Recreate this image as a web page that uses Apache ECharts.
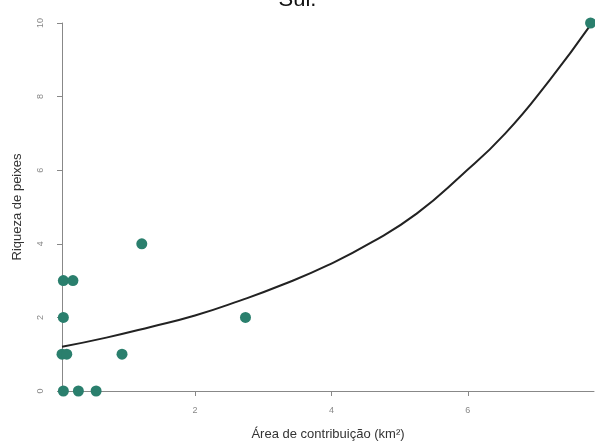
<!DOCTYPE html>
<html>
<head>
<meta charset="utf-8">
<script src="https://cdn.jsdelivr.net/npm/echarts@6/dist/echarts.min.js"></script>
<style>
  html, body { margin: 0; padding: 0; background: #fff; }
  #chart { width: 595px; height: 444px; }
</style>
</head>
<body>
<div id="chart"></div>
<script>
// observed points (area km², species richness)
const areaKm2 = [0.07, 0.21, 0.07, 0.05, 0.12, 0.07, 0.29, 0.55, 0.93, 1.22, 2.74, 7.8]
const riqueza = [3, 3, 2, 1, 1, 0, 0, 0, 1, 4, 2, 10]
// fitted curve
const curveX = [0.05, 0.7, 1.35, 2.0, 2.65, 3.3, 3.95, 4.6, 5.25, 5.9, 6.55, 7.2, 7.8]
const curveY = [1.2, 1.45, 1.74, 2.05, 2.45, 2.9, 3.42, 4.05, 4.82, 5.85, 7.0, 8.45, 9.95]
const xTicks = [2, 4, 6]
const yTicks = [0, 2, 4, 6, 8, 10]

const chart = echarts.init(document.getElementById('chart'))
chart.setOption({
    animation: false,
    title: {
        text: 'Sul.',
        left: 'center',
        top: -16,
        textStyle: { fontSize: 22, fontWeight: 'normal', color: '#111', fontFamily: 'Liberation Sans' }
    },
    grid: { left: 62, right: 1, top: 23, bottom: 53, outerBoundsMode: 'none' },
    xAxis: {
        type: 'value',
        min: 0.05,
        max: 7.85,
        name: 'Área de contribuição (km²)',
        nameLocation: 'middle',
        nameGap: 37,
        nameTextStyle: { fontSize: 13, color: '#333', fontFamily: 'Liberation Sans' },
        splitLine: { show: false },
        axisLine: { lineStyle: { color: '#888', width: 1 } },
        axisTick: { customValues: xTicks, length: 5, lineStyle: { color: '#888' } },
        axisLabel: { customValues: xTicks, fontSize: 9, color: '#888', margin: 15, fontFamily: 'Liberation Sans' }
    },
    yAxis: {
        type: 'value',
        min: 0,
        max: 10,
        name: 'Riqueza de peixes',
        nameLocation: 'middle',
        nameGap: 38,
        nameTextStyle: { fontSize: 13, color: '#333', fontFamily: 'Liberation Sans' },
        splitLine: { show: false },
        axisLine: { show: true, lineStyle: { color: '#888', width: 1 } },
        axisTick: { show: true, customValues: yTicks, length: 5, lineStyle: { color: '#888' } },
        axisLabel: { customValues: yTicks, rotate: 90, fontSize: 9, color: '#888', margin: 17, fontFamily: 'Liberation Sans' }
    },
    series: [
        {
            type: 'line',
            data: curveX.map((x, i) => [x, curveY[i]]),
            smooth: true,
            symbol: 'none',
            lineStyle: { color: '#222', width: 2 },
            z: 2
        },
        {
            type: 'scatter',
            data: areaKm2.map((x, i) => [x, riqueza[i]]),
            symbolSize: 11,
            clip: false,
            itemStyle: { color: '#2a7f6d', opacity: 1 },
            z: 3
        }
    ]
})
</script>
</body>
</html>
